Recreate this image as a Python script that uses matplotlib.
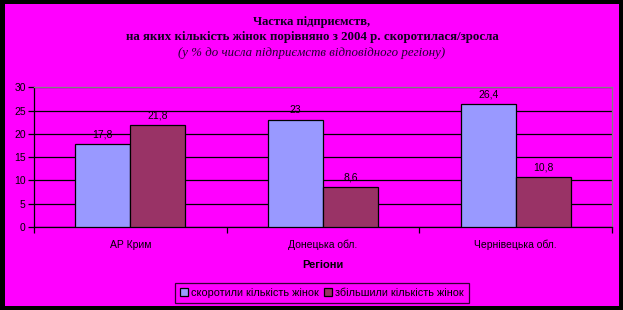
import matplotlib
matplotlib.use("Agg")
import matplotlib.pyplot as plt
from matplotlib.patches import Rectangle
import numpy as np

categories = ["АР Крим", "Донецька обл.", "Чернівецька обл."]
decreased = [17.8, 23, 26.4]
increased = [21.8, 8.6, 10.8]
decreased_labels = ["17,8", "23", "26,4"]
increased_labels = ["21,8", "8,6", "10,8"]
series_names = ["скоротили кількість жінок", "збільшили кількість жінок"]
yticks = [0, 5, 10, 15, 20, 25, 30]

W, H = 623, 310
fig = plt.figure(figsize=(W / 100, H / 100), dpi=100, facecolor="black")
bg = Rectangle((5 / W, 4 / H), (619 - 5) / W, (306 - 4) / H,
               transform=fig.transFigure, facecolor="#FF00FF",
               edgecolor="none", zorder=-10)
fig.patches.append(bg)

ax = fig.add_axes([34 / W, (H - 227) / H, (612 - 34) / W, (227 - 87.3) / H])
ax.set_zorder(1)
ax.set_facecolor("#FF00FF")

x = np.arange(len(categories))
bw = 0.285
b1 = ax.bar(x - bw / 2, decreased, bw, color="#9999FF", edgecolor="black",
            linewidth=0.9, label=series_names[0], zorder=3)
b2 = ax.bar(x + bw / 2, increased, bw, color="#993366", edgecolor="black",
            linewidth=0.9, label=series_names[1], zorder=3)

for xi, v, lab in zip(x - bw / 2, decreased, decreased_labels):
    ax.text(xi, v + 1.0, lab, ha="center", va="bottom", fontsize=7.5,
            family="Liberation Sans", color="black")
for xi, v, lab in zip(x + bw / 2, increased, increased_labels):
    ax.text(xi, v + 1.0, lab, ha="center", va="bottom", fontsize=7.5,
            family="Liberation Sans", color="black")

ax.set_xlim(-0.5, 2.5)
ax.set_ylim(0, 30)
ax.set_yticks(yticks)
ax.set_yticklabels([str(t) for t in yticks], fontsize=7.5, family="Liberation Sans")
ax.yaxis.grid(True, color="black", linewidth=0.9, zorder=1)
ax.set_axisbelow(True)

ax.set_xticks([-0.5, 0.5, 1.5, 2.5])
ax.set_xticklabels([])
ax.set_xticks(x, minor=True)
ax.set_xticklabels(categories, minor=True, fontsize=7.5, family="Liberation Sans")
ax.tick_params(axis="x", which="minor", length=0, pad=9)
ax.tick_params(axis="x", which="major", length=4, width=0.9, color="black")
ax.tick_params(axis="y", length=4, width=0.9, color="black", pad=2)

for s in ["top", "right"]:
    ax.spines[s].set_color("#808080")
    ax.spines[s].set_linewidth(0.9)
for s in ["bottom", "left"]:
    ax.spines[s].set_color("black")
    ax.spines[s].set_linewidth(0.9)

ax.set_xlabel("Регіони", fontsize=8, fontweight="bold", family="Liberation Sans",
              labelpad=7)

fig.text(312 / W, 1 - 22 / H, "Частка підприємств,", ha="center", va="center",
         fontsize=9, fontweight="bold", family="Liberation Serif", color="#100020")
fig.text(312 / W, 1 - 37 / H,
         "на яких кількість жінок порівняно з 2004 р. скоротилася/зросла",
         ha="center", va="center", fontsize=9.3, fontweight="bold",
         family="Liberation Serif", color="#100020")
fig.text(312 / W, 1 - 53 / H, "(у % до числа підприємств відповідного регіону)",
         ha="center", va="center", fontsize=9.3, style="italic",
         family="Liberation Serif", color="#200030")

leg = fig.legend(handles=[b1, b2], loc="center", bbox_to_anchor=(322 / W, 1 - 293 / H),
                 ncol=2, frameon=True, fancybox=False,
                 prop={"family": "Liberation Sans", "size": 7.8},
                 handlelength=0.7, handleheight=0.7, handletextpad=0.3,
                 columnspacing=0.5, borderpad=0.45)
leg.get_frame().set_facecolor("#FF00FF")
leg.get_frame().set_edgecolor("black")
leg.get_frame().set_linewidth(0.9)

fig.savefig("out.png", dpi=100, facecolor="black")
